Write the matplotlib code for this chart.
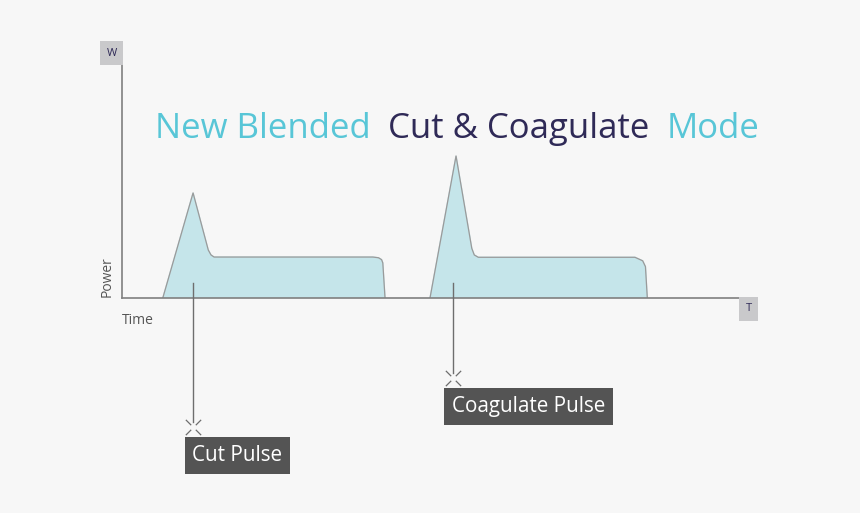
import matplotlib.pyplot as plt
from matplotlib.path import Path

# pulse outlines (time, power) in arbitrary units
cut_t = [6.6, 11.5, 13.96, 14.4, 14.9, 40.6, 41.5, 42.0, 42.2, 42.56]
cut_p = [0, 44.9, 20.5, 18.4, 17.5, 17.5, 17.2, 16.4, 15.0, 0]
coag_t = [49.84, 54.05, 56.6, 57.0, 57.65, 83.0, 84.25, 84.7, 85.0]
coag_p = [0, 60.7, 21.2, 18.4, 17.4, 17.4, 15.9, 13.4, 0]

# callouts: label, time of pointer, bottom of pointer (power units)
labels = ['Cut Pulse', 'Coagulate Pulse']
label_t = [11.5, 53.5]
label_end = [-53.0, -32.0]

title_parts = ['New Blended', 'Cut & Coagulate', 'Mode']
title_t = [5.3, 43.0, 88.1]

bg = '#f7f7f7'
cyan = '#58c6d7'
navy = '#2f2a57'
fill = '#c5e5ea'
grey = '#808080'

plt.rcParams['font.family'] = ['Open Sans', 'DejaVu Sans']

fig = plt.figure(figsize=(8.6, 5.13), dpi=100, facecolor=bg)
ax = fig.add_axes([122 / 860, 1 - 298 / 513, (740 - 122) / 860, (298 - 64) / 513])
ax.set_facecolor('none')
ax.set_xlim(0, 100)
ax.set_ylim(0, 100)
ax.set_xticks([])
ax.set_yticks([])
for s in ['top', 'right']:
    ax.spines[s].set_visible(False)
for s in ['left', 'bottom']:
    ax.spines[s].set_color(grey)
    ax.spines[s].set_linewidth(1.2)

# pulses
for t, p in [(cut_t, cut_p), (coag_t, coag_p)]:
    ax.fill(t, p, color=fill, zorder=1)
    ax.plot(t, p, color='#9a9a9a', lw=0.9, zorder=2)

# X shaped marker with a gap in the middle
xmark = Path([(-1, 1), (-0.3, 0.3), (1, 1), (0.3, 0.3),
              (-1, -1), (-0.3, -0.3), (1, -1), (0.3, -0.3)],
             [Path.MOVETO, Path.LINETO] * 4)

# callout lines and labels
for lab, t, end in zip(labels, label_t, label_end):
    ax.plot([t, t], [6.5, end], color='#6e6e6e', lw=1.0, clip_on=False, zorder=3)
    ax.plot([t], [end - 2.3], marker=xmark, ms=11, mec='#6e6e6e', mew=0.9,
            ls='none', clip_on=False)
    ax.text(t - 0.1, end - 14.4, lab, fontsize=14.9, color='white', ha='left', va='center',
            clip_on=False,
            bbox=dict(boxstyle='square,pad=0.38', fc='#545454', ec='none'))

# title in two colours
for part, t, c in zip(title_parts, title_t, [cyan, navy, cyan]):
    ax.text(t, 68.4, part, fontsize=25, color=c, ha='left', va='baseline', clip_on=False)

# axis captions
ax.text(-1.7, 104.7, 'W', fontsize=8, color=navy, ha='center', va='center', clip_on=False,
        bbox=dict(boxstyle='square,pad=0.55', fc='#c9c9cb', ec='none'))
ax.text(101.4, -4.7, 'T', fontsize=8, color=navy, ha='center', va='center', clip_on=False,
        bbox=dict(boxstyle='square,pad=0.6', fc='#c9c9cb', ec='none'))
ax.text(-2.4, 0.5, 'Power', fontsize=10, color='#555555', rotation=90, ha='center', va='bottom',
        clip_on=False)
ax.text(0.0, -9.6, 'Time', fontsize=10, color='#555555', ha='left', va='center', clip_on=False)

fig.savefig('out.png', dpi=100, facecolor=bg)
